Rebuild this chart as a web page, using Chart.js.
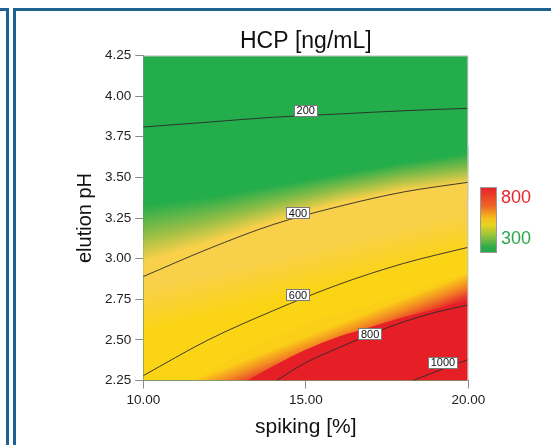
<!DOCTYPE html>
<html lang="en">
<head>
<meta charset="UTF-8">
<title>HCP [ng/mL]</title>
<script src="https://cdn.jsdelivr.net/npm/chart.js"></script>
<style>
    html, body { margin: 0; padding: 0; background: #fff; }
    body { width: 551px; height: 445px; position: relative; overflow: hidden;
           font-family: "Liberation Sans", Arial, sans-serif; }
    #wrap { position: absolute; left: 0; top: 0; width: 551px; height: 445px; }
    /* page frame */
    .frame-left { position: absolute; left: -20px; top: 8px; width: 23px; height: 460px;
                  border: 3px solid #1d6291; }
    .frame-main { position: absolute; left: 13px; top: 8px; width: 600px; height: 460px;
                  border-left: 3px solid #1d6291; border-top: 3px solid #1d6291; }
    /* colour key */
    .colorbar { position: absolute; left: 480px; top: 187px; width: 15px; height: 64px;
                border: 1px solid #9a9a9a;
                background: linear-gradient(to bottom, #e8232a 0%, #ee6526 28%, #f6c21c 48%,
                            #e7d320 58%, #93c23f 75%, #2fab4a 92%, #27a94b 100%); }
    .cb-label { position: absolute; left: 501px; font-size: 18px; line-height: 18px; }
</style>
</head>
<body>
<div id="wrap"><canvas id="hcp" width="551" height="445"></canvas></div>
<div class="frame-left"></div>
<div class="frame-main"></div>
<div class="colorbar"></div>
<div class="cb-label" style="top:188px; color:#e8262c;">800</div>
<div class="cb-label" style="top:229px; color:#2aa84a;">300</div>

<script>
// spiking [%] grid used by the full-width curves
const spiking = [10, 12, 14, 16, 18, 20];

// contour lines (elution pH at each spiking value)
const level200 = [3.81, 3.84, 3.87, 3.89, 3.91, 3.925];
const level400 = [2.89, 3.06, 3.21, 3.32, 3.41, 3.47];
const level600 = [2.28, 2.50, 2.68, 2.84, 2.97, 3.07];
const level800X = [14.1, 15, 16, 17, 18, 19, 20];
const level800 = [2.25, 2.36, 2.45, 2.535, 2.61, 2.67, 2.715];
const level1000X = [18.3, 19.2, 20];
const level1000 = [2.25, 2.32, 2.38];

// colour field edges
const greenEdge = [3.33, 3.38, 3.45, 3.52, 3.59, 3.65];   // solid green ends
const yellowEdge = [2.98, 3.10, 3.23, 3.34, 3.42, 3.465]; // yellow starts
const orangeX = [11.5, 12, 13, 14, 15, 16, 17, 18, 19, 20];
const orangeEdge = [2.25, 2.30, 2.42, 2.51, 2.60, 2.66, 2.72, 2.78, 2.85, 2.91];
const redX = [13.2, 14, 15, 16, 17, 18, 19, 20];
const redEdge = [2.25, 2.34, 2.44, 2.52, 2.58, 2.64, 2.69, 2.745];

// contour labels
const labelLevels = [200, 400, 600, 800, 1000];
const labelX = [15.0, 14.76, 14.76, 16.98, 19.22];
const labelY = [3.91, 3.279, 2.776, 2.535, 2.36];

// axis
const spikingTicks = [10, 15, 20];
const phMin = 2.25, phMax = 4.25;

const GREEN = '#23ad4b', PALE = '#f8d04a', GOLD = '#fbd415', RED = '#e61f27';
const FONT = "'Liberation Sans', Arial, sans-serif";

const pts = (xs, ys) => xs.map((x, i) => ({ x: x, y: ys[i] }));

const areaSet = (label, data, color, order) => ({
    label: label, data: data, order: order,
    fill: 'start', backgroundColor: color,
    borderColor: 'transparent', borderWidth: 0,
    pointRadius: 0, cubicInterpolationMode: 'monotone'
});
const lineSet = (label, data, order) => ({
    label: label, data: data, order: order, fill: false,
    borderColor: '#2a2a2a', borderWidth: 0.9,
    pointRadius: 0, cubicInterpolationMode: 'monotone'
});

const yellowPts = pts(spiking, yellowEdge);
const orangePts = pts(orangeX, orangeEdge);
const redPts = pts(redX, redEdge);
const l600Pts = pts(spiking, level600);

const datasets = [
    areaSet('top', pts([10, 20], [phMax, phMax]), GREEN, 20),
    areaSet('greenEdge', pts(spiking, greenEdge), GREEN, 19),
    areaSet('yellowEdge', yellowPts, GOLD, 18),
    areaSet('orangeEdge', orangePts, '#f39a22', 17),
    areaSet('redEdge', redPts, RED, 16),
    lineSet('200', pts(spiking, level200), 5),
    lineSet('400', pts(spiking, level400), 4),
    lineSet('600', l600Pts, 3),
    lineSet('800', pts(level800X, level800), 2),
    lineSet('1000', pts(level1000X, level1000), 1)
];

function toPx(chart, p) {
    return [chart.scales.x.getPixelForValue(p.x), chart.scales.y.getPixelForValue(p.y)];
}

// gradient across a band, tilted like the band's upper edge
function tiltGradient(chart, upper, lower, stops) {
    const a = upper.map(p => toPx(chart, p)), b = lower.map(p => toPx(chart, p));
    const a0 = a[0], a1 = a[a.length - 1], b0 = b[0], b1 = b[b.length - 1];
    const slope = (a1[1] - a0[1]) / (a1[0] - a0[0]);
    const nx = -slope, ny = 1, n2 = nx * nx + ny * ny;
    const proj = p => nx * p[0] + ny * p[1];
    const pa = (proj(a0) + proj(a1)) / 2, pb = (proj(b0) + proj(b1)) / 2;
    const g = chart.ctx.createLinearGradient(nx * pa / n2, ny * pa / n2, nx * pb / n2, ny * pb / n2);
    stops.forEach(s => g.addColorStop(s[0], s[1]));
    return g;
}

// value of an edge at spiking v (straight between read points)
function edgeAt(xs, ys, v) {
    if (v <= xs[0]) return ys[0];
    for (let i = 1; i < xs.length; i++) {
        if (v <= xs[i]) return ys[i - 1] + (ys[i] - ys[i - 1]) * (v - xs[i - 1]) / (xs[i] - xs[i - 1]);
    }
    return ys[ys.length - 1];
}

const greenStops = [[0, GREEN], [0.55, '#96be46'], [1, PALE]];

// green -> yellow shading between greenEdge and yellowEdge, one pixel column at a time
const bandShading = {
    id: 'bandShading',
    afterDatasetDraw(chart, args) {
        if (chart.data.datasets[args.index].label !== 'greenEdge') return;
        const { ctx, chartArea, scales: { x, y } } = chart;
        ctx.save();
        ctx.beginPath();
        ctx.rect(chartArea.left, chartArea.top, chartArea.width, chartArea.height);
        ctx.clip();
        for (let px = Math.floor(chartArea.left); px < chartArea.right; px++) {
            const v = x.getValueForPixel(px + 0.5);
            const yu = y.getPixelForValue(edgeAt(spiking, greenEdge, v));
            const yl = y.getPixelForValue(edgeAt(spiking, yellowEdge, v));
            const g = ctx.createLinearGradient(0, yu, 0, yl);
            greenStops.forEach(s => g.addColorStop(s[0], s[1]));
            ctx.fillStyle = g;
            ctx.fillRect(px, Math.floor(yu - 6), 1, yl - yu + 20);
        }
        ctx.restore();
    }
};

const contourLabels = {
    id: 'contourLabels',
    afterDatasetsDraw(chart) {
        const { ctx, chartArea, scales: { x, y } } = chart;
        ctx.save();
        // thin frame on the open sides of the plot
        ctx.strokeStyle = '#c4c4c4';
        ctx.lineWidth = 1;
        ctx.beginPath();
        ctx.moveTo(chartArea.left, chartArea.top + 0.5);
        ctx.lineTo(chartArea.right - 0.5, chartArea.top + 0.5);
        ctx.lineTo(chartArea.right - 0.5, chartArea.bottom);
        ctx.stroke();

        ctx.font = '11px ' + FONT;
        ctx.textAlign = 'center';
        ctx.textBaseline = 'middle';
        labelLevels.forEach((lv, i) => {
            const cx = x.getPixelForValue(labelX[i]);
            const cy = y.getPixelForValue(labelY[i]);
            const txt = String(lv);
            const w = Math.round(ctx.measureText(txt).width + 6), h = 12;
            const l = Math.round(cx - w / 2), t = Math.round(cy - h / 2);
            ctx.fillStyle = '#fff';
            ctx.fillRect(l, t, w, h);
            ctx.strokeStyle = '#7a7a7a';
            ctx.strokeRect(l + 0.5, t + 0.5, w - 1, h - 1);
            ctx.fillStyle = '#111';
            ctx.fillText(txt, cx, cy + 0.5);
        });
        ctx.restore();
    }
};

Chart.defaults.font.family = FONT;

const chart = new Chart(document.getElementById('hcp'), {
    type: 'line',
    data: { datasets: datasets },
    options: {
        responsive: false,
        animation: false,
        layout: { padding: { left: 0, right: 82.7, top: 0, bottom: 0 } },
        plugins: {
            legend: { display: false },
            tooltip: { enabled: false },
            title: {
                display: true, text: 'HCP [ng/mL]', color: '#111', fullSize: false,
                font: { size: 23, weight: 'normal', lineHeight: 1 },
                padding: { top: 30.5, bottom: 2 }
            }
        },
        scales: {
            x: {
                type: 'linear', min: 10, max: 20,
                afterFit: s => { s.height = 64.5; },
                afterBuildTicks: s => { s.ticks = spikingTicks.map(v => ({ value: v })); },
                ticks: { callback: v => v.toFixed(2), color: '#222', font: { size: 13.5 }, padding: 4, maxRotation: 0 },
                grid: { drawOnChartArea: false, tickLength: 8, color: '#8a8a8a' },
                border: { color: '#8a8a8a' },
                title: { display: true, text: 'spiking [%]', color: '#111',
                         font: { size: 21, lineHeight: 1 }, padding: { top: 0, bottom: 7.5 } }
            },
            y: {
                type: 'linear', min: phMin, max: phMax,
                afterFit: s => { s.width = 143.3; },
                ticks: { stepSize: 0.25, callback: v => v.toFixed(2), color: '#222', font: { size: 13.5 }, padding: 4 },
                grid: { drawOnChartArea: false, tickLength: 8, color: '#8a8a8a' },
                border: { color: '#8a8a8a' },
                title: { display: true, text: 'elution pH', color: '#111',
                         font: { size: 20, lineHeight: 1 }, padding: { top: 75, bottom: 0 } }
            }
        }
    },
    plugins: [bandShading, contourLabels]
});

// colour the remaining bands now that the scales exist
const ds = chart.data.datasets;
ds[2].backgroundColor = tiltGradient(chart, yellowPts, l600Pts, [[0, PALE], [0.3, PALE], [0.8, GOLD], [1, GOLD]]);
ds[3].backgroundColor = tiltGradient(chart, orangePts, redPts, [[0, '#fbcf18'], [0.5, '#f28a22'], [1, '#e8302a']]);
chart.update('none');
</script>
</body>
</html>
